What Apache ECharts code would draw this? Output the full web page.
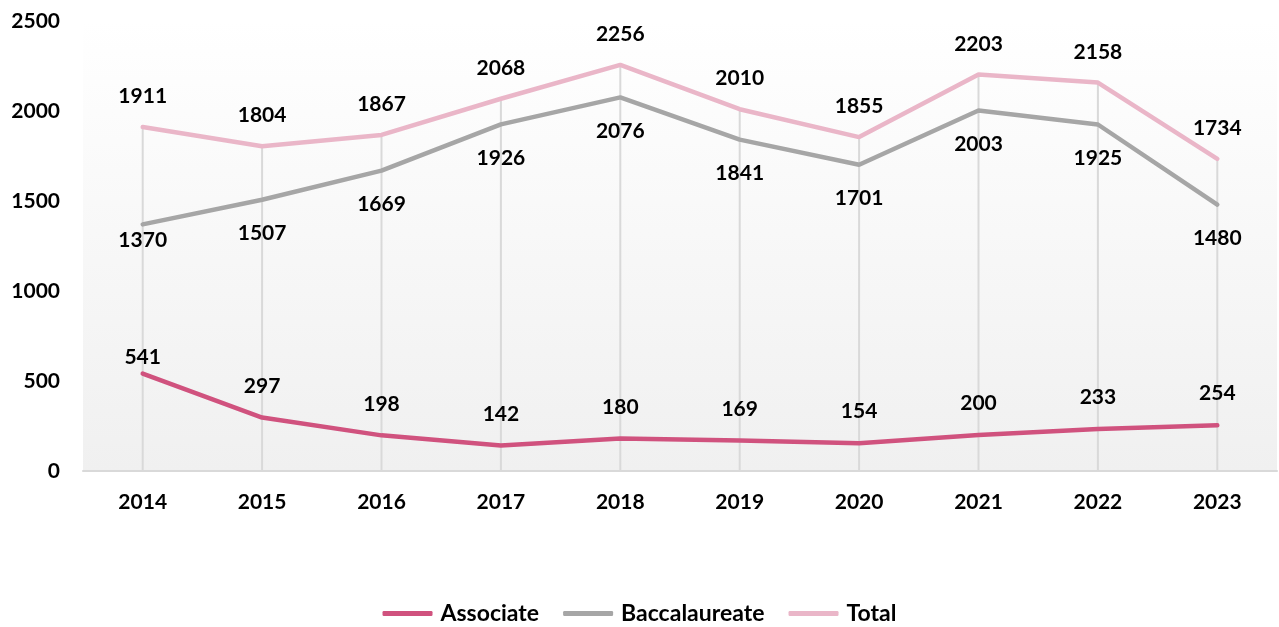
<!DOCTYPE html>
<html>
<head>
<meta charset="utf-8">
<script src="https://cdn.jsdelivr.net/npm/echarts@6/dist/echarts.min.js"></script>
<style>
  html, body { margin: 0; padding: 0; background: #fff; }
  #chart { width: 1279px; height: 627px; }
</style>
</head>
<body>
<div id="chart"></div>
<script>
const years = ['2014', '2015', '2016', '2017', '2018', '2019', '2020', '2021', '2022', '2023']
const associate = [541, 297, 198, 142, 180, 169, 154, 200, 233, 254]
const baccalaureate = [1370, 1507, 1669, 1926, 2076, 1841, 1701, 2003, 1925, 1480]
const total = [1911, 1804, 1867, 2068, 2256, 2010, 1855, 2203, 2158, 1734]

const FONT = 'Lato'
const labelText = { fontFamily: FONT, fontWeight: 'bold', fontSize: 21, color: '#000' }

const chart = echarts.init(document.getElementById('chart'))

// first point labels sit closer to the line in the original
function withLabels(values, position, firstDistance) {
  return values.map((v, i) => i === 0
    ? { value: v, label: { position: position, distance: firstDistance } }
    : { value: v })
}

function lineSeries(name, data, color, labelPos, distance) {
  return {
    name: name,
    type: 'line',
    data: data,
    symbol: 'circle',
    symbolSize: 0.1,
    showSymbol: true,
    z: 3,
    lineStyle: { color: color, width: 4.5, cap: 'round' },
    itemStyle: { color: color },
    label: { show: true, position: labelPos, distance: distance, ...labelText },
    labelLayout: { hideOverlap: false }
  }
}

chart.setOption({
  animation: false,
  grid: {
    left: 83, right: 2, top: 21, bottom: 156,
    show: true,
    borderWidth: 0,
    backgroundColor: new echarts.graphic.LinearGradient(0, 0, 0, 1, [
      { offset: 0, color: '#ffffff' },
      { offset: 1, color: '#f0f0f0' }
    ])
  },
  legend: {
    bottom: 2,
    left: 'center',
    padding: 0,
    data: ['Associate', 'Baccalaureate', 'Total'],
    icon: 'roundRect',
    itemWidth: 50,
    itemHeight: 5,
    itemGap: 24,
    textStyle: { ...labelText, fontSize: 23, padding: [0, 0, 0, 3] }
  },
  xAxis: {
    type: 'category',
    data: years,
    axisLine: { lineStyle: { color: '#d9d9d9', width: 2 } },
    axisTick: { show: false },
    axisLabel: { ...labelText, margin: 21 },
    splitLine: { show: false }
  },
  yAxis: {
    type: 'value',
    min: 0, max: 2500, interval: 500,
    axisLine: { show: false },
    axisTick: { show: false },
    splitLine: { show: false },
    axisLabel: { ...labelText, margin: 23, formatter: v => String(v) }
  },
  series: [
    {
      name: 'drop',
      type: 'bar',
      data: total,
      barWidth: 2,
      silent: true,
      z: 1,
      itemStyle: { color: '#d9d9d9' },
      label: { show: false }
    },
    lineSeries('Associate', withLabels(associate, 'top', 6), '#d0527e', 'top', 21),
    lineSeries('Baccalaureate', withLabels(baccalaureate, 'bottom', 5), '#a6a6a6', 'bottom', 23),
    lineSeries('Total', total, '#eab6c8', 'top', 20)
  ]
})
</script>
</body>
</html>
